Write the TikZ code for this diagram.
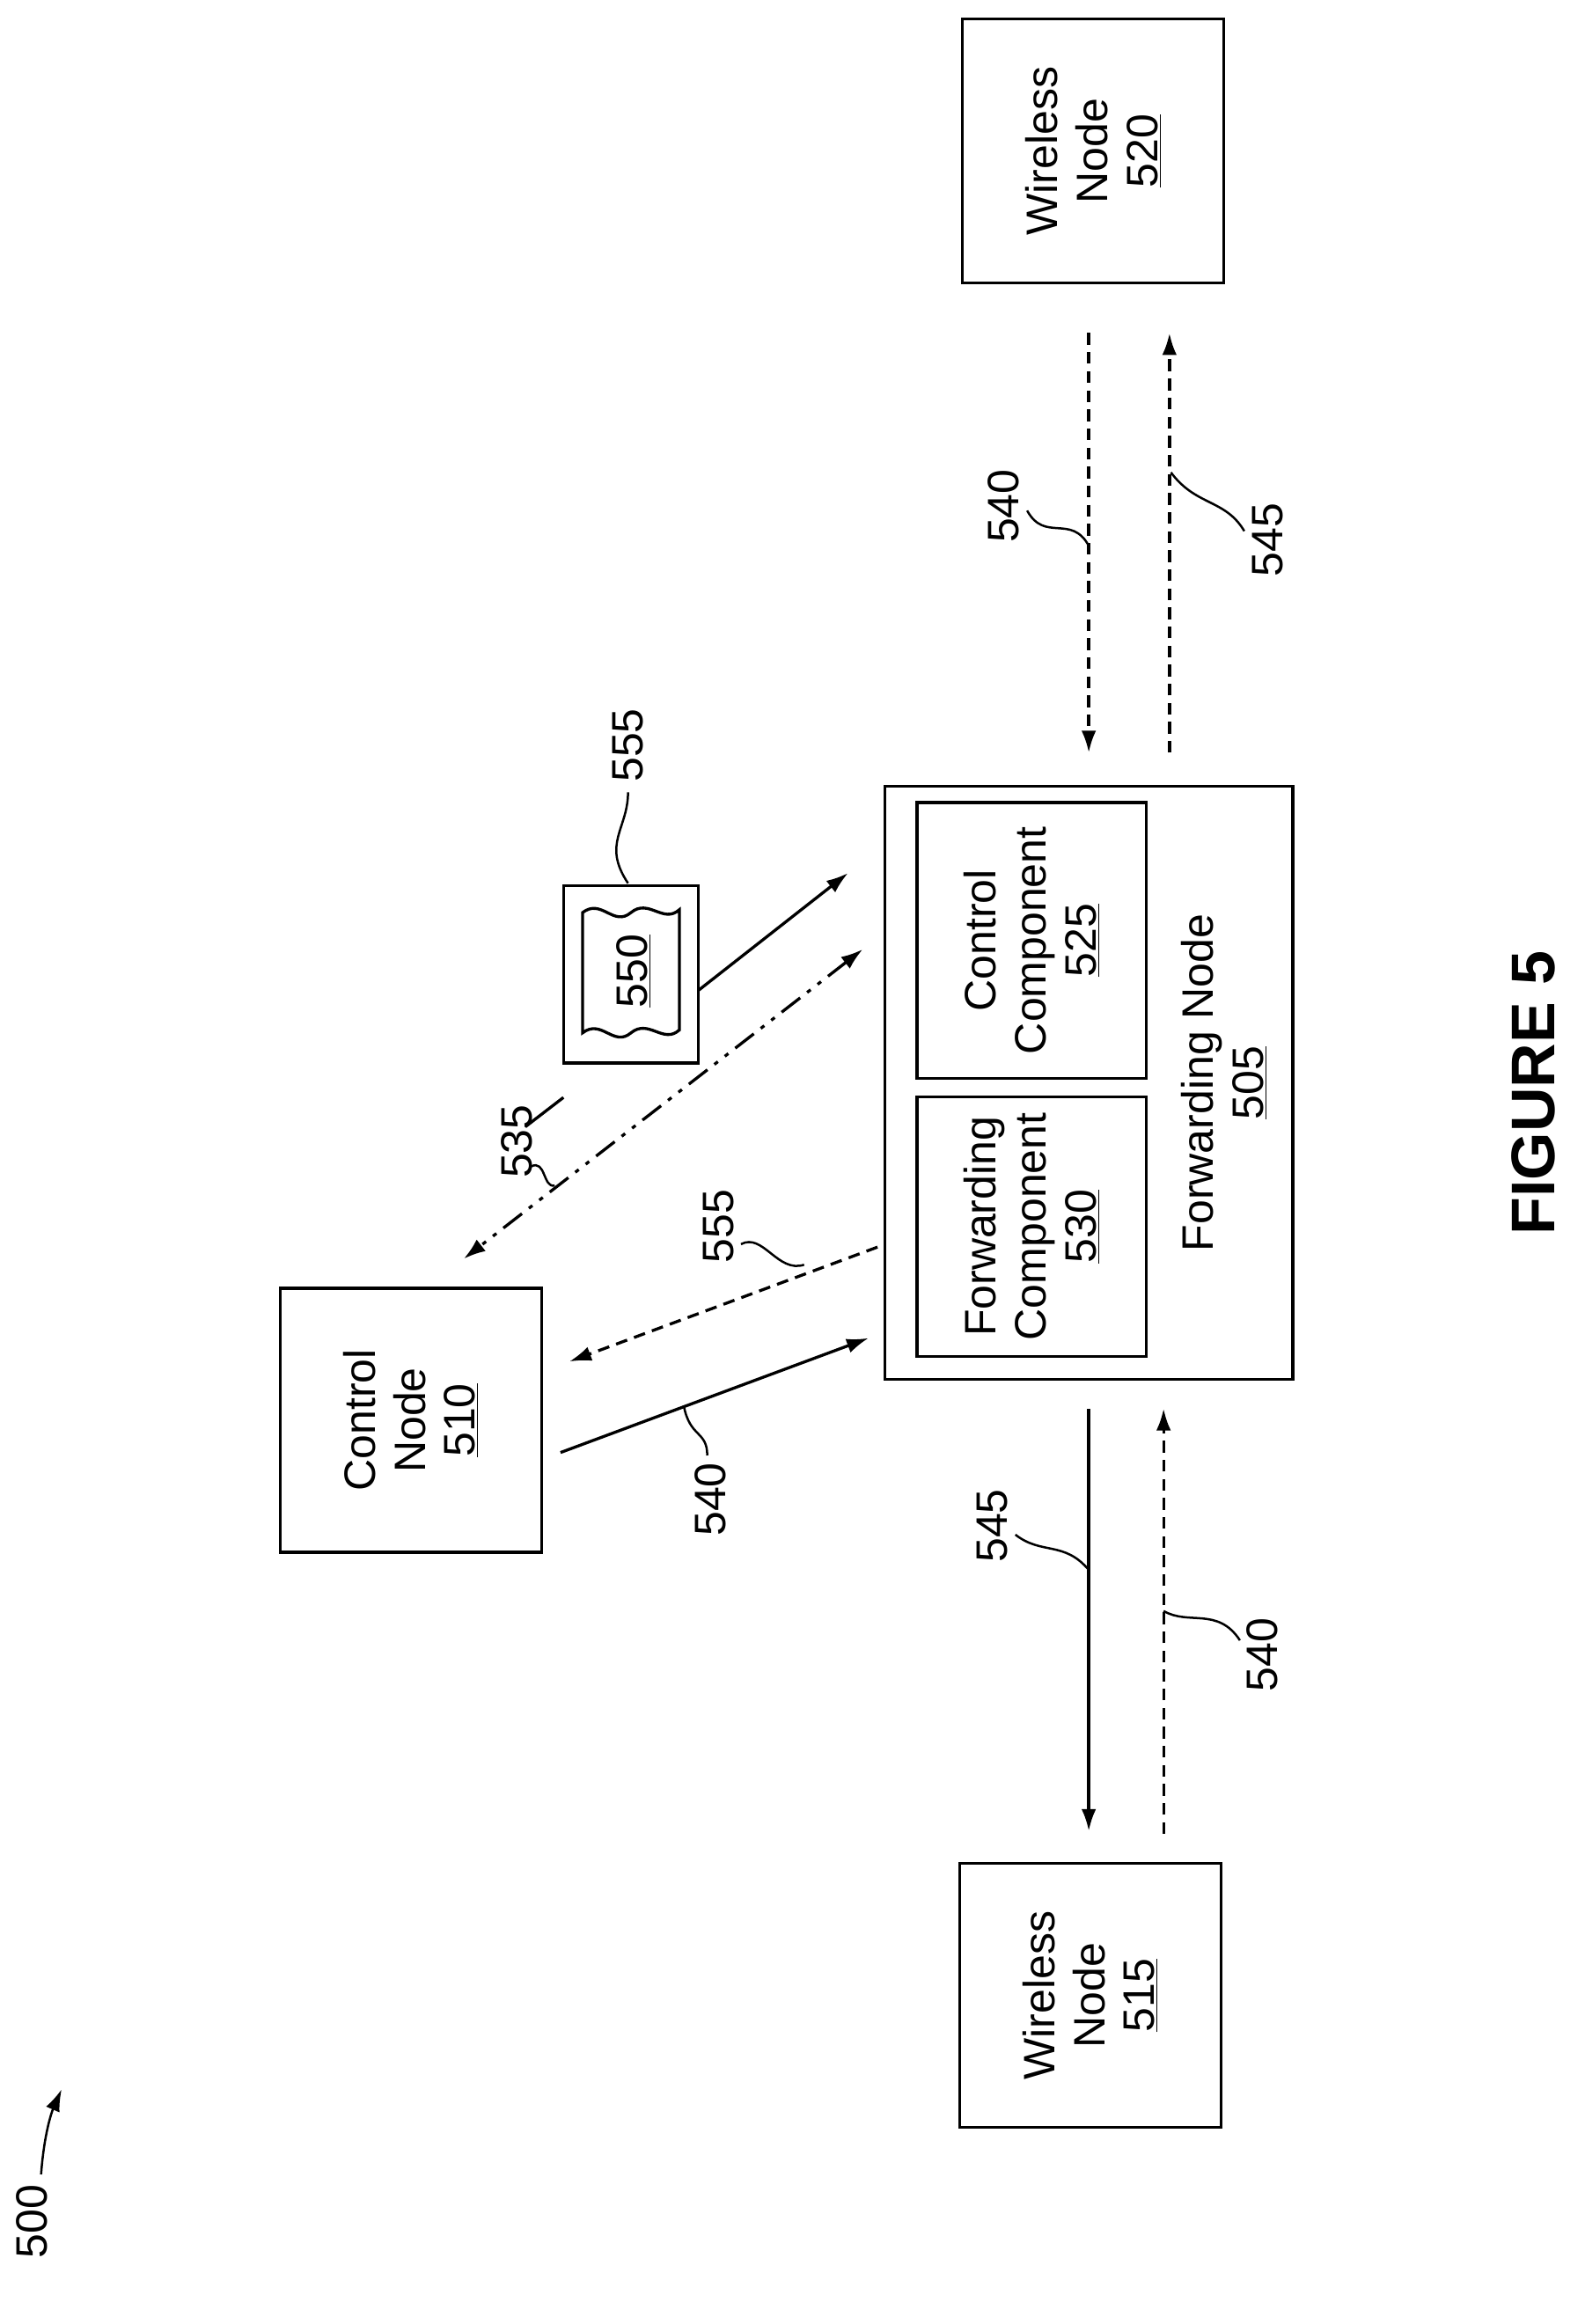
\documentclass[tikz,border=0pt]{standalone}
\usepackage{fontspec}
\setmainfont{Liberation Sans}
\usetikzlibrary{arrows.meta,positioning}
\tikzset{
box/.style={
  draw, line width=2pt, rotate=90,
  align=center, font=\fontsize{30}{34}\selectfont
  },
lbl/.style={rotate=90, font=\fontsize{30}{34}\selectfont},
con/.style={line width=2pt},
dsh/.style={dash pattern=on 8pt off 5pt},
dshdot/.style={dash pattern=on 16pt off 6pt on 3pt off 6pt on 3pt off 6pt},
lead/.style={line width=1.5pt}
}
\begin{document}
\begin{tikzpicture}[>={Latex[length=15pt,width=10pt]}, x=1pt, y=-1pt]
\useasboundingbox (0,0) rectangle (1080,1584);

% nodes
\node[box, minimum width=180pt, minimum height=178pt] (wn520) at (745,103)
  {Wireless\\Node\\\underline{520}};
\node[box, minimum width=180pt, minimum height=178pt] (wn515) at (743,1360)
  {Wireless\\Node\\\underline{515}};
\node[box, minimum width=180pt, minimum height=178pt] (cn510) at (280,968)
  {Control\\Node\\\underline{510}};
\node[box, minimum width=404pt, minimum height=278pt] (fn505) at (742,738) {};
\node[lbl, align=center] (fn505lbl) at (834,738) {Forwarding Node\\\underline{505}};
\node[box, minimum width=188pt, minimum height=156pt] (cc525) at (703,641)
  {Control\\Component\\\underline{525}};
\node[box, minimum width=177pt, minimum height=156pt] (fc530) at (703,836)
  {Forwarding\\Component\\\underline{530}};
\node[box, minimum width=121pt, minimum height=92pt] (msg550) at (430,664) {};
\draw[con] (397,622) .. controls (410,612) and (418,632) .. (430,622)
  .. controls (442,612) and (452,630) .. (463,620) -- (463,702)
  .. controls (452,712) and (442,694) .. (430,704)
  .. controls (418,714) and (410,694) .. (397,704) -- cycle;
\node[lbl] (msg550lbl) at (432,662) {\underline{550}};

% arrow end points
\coordinate (a1s) at (742,227); \coordinate (a1e) at (742,513);
\coordinate (a2s) at (797,513); \coordinate (a2e) at (797,227);
\coordinate (a3s) at (742,960); \coordinate (a3e) at (742,1248);
\coordinate (a4s) at (793,1250); \coordinate (a4e) at (793,960);
\coordinate (a5s) at (382,990); \coordinate (a5e) at (592,912);
\coordinate (a6s) at (598,850); \coordinate (a6e) at (388,928);
\coordinate (a7s) at (588,647); \coordinate (a7e) at (316,858);
\coordinate (a8s) at (358,768); \coordinate (a8m) at (384,748);
\coordinate (a8n) at (476,675); \coordinate (a8e) at (578,595);

\draw[con, dsh, ->] (a1s) -- (a1e);
\draw[con, dsh, ->] (a2s) -- (a2e);
\draw[con, ->] (a3s) -- (a3e);
\draw[con, dsh, ->] (a4s) -- (a4e);
\draw[con, ->] (a5s) -- (a5e);
\draw[con, dsh, ->] (a6s) -- (a6e);
\draw[con, dshdot, <->] (a7s) -- (a7e);
\draw[con] (a8s) -- (a8m);
\draw[con, ->] (a8n) -- (a8e);

% labels
\node[lbl] (l540a) at (684,345) {540};
\draw[lead] (700,348) .. controls (712,370) and (730,350) .. (742,372);
\node[lbl] (l545a) at (864,368) {545};
\draw[lead] (848,362) .. controls (835,340) and (815,345) .. (798,322);
\node[lbl] (l545b) at (676,1040) {545};
\draw[lead] (692,1046) .. controls (710,1060) and (725,1050) .. (742,1070);
\node[lbl] (l540b) at (860,1128) {540};
\draw[lead] (845,1118) .. controls (830,1095) and (810,1108) .. (793,1098);
\node[lbl] (l540c) at (484,1022) {540};
\draw[lead] (482,992) .. controls (482,975) and (470,980) .. (466,958);
\node[lbl] (l555a) at (490,836) {555};
\draw[lead] (505,848) .. controls (520,840) and (530,868) .. (548,862);
\node[lbl] (l535) at (352,778) {535};
\draw[lead] (362,795) .. controls (372,790) and (370,810) .. (378,808);
\node[lbl] (l555b) at (428,508) {555};
\draw[lead] (428,540) .. controls (428,565) and (410,575) .. (428,602);
\node[lbl] (l500) at (22,1514) {500};
\draw[lead, ->] (28,1482) .. controls (30,1455) and (35,1440) .. (42,1424);
\node[rotate=90, font=\bfseries\fontsize{42}{50}\selectfont] (fig) at (1045,745) {FIGURE 5};
\end{tikzpicture}
\end{document}
